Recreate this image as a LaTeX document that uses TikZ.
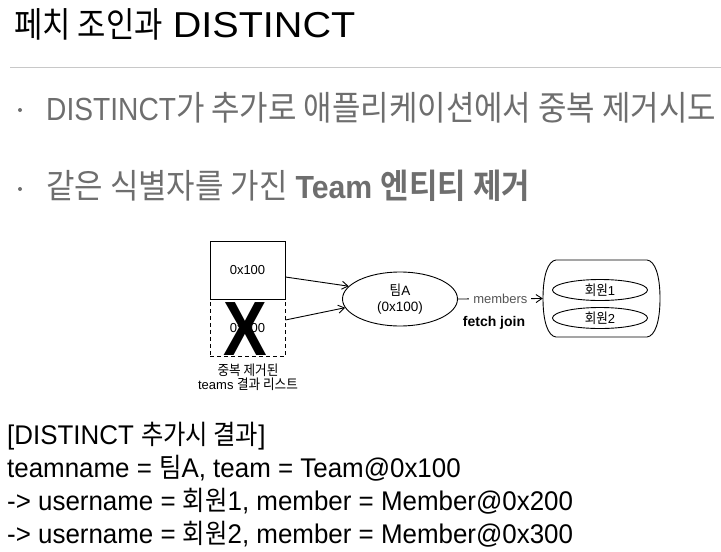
\documentclass[tikz,border=0pt]{standalone}
\usepackage{fontspec}
\setmainfont{Liberation Sans}
\newfontfamily\latT{Liberation Sans}[FakeStretch=1.1]
\newfontfamily\latB{Liberation Sans}[FakeStretch=0.88, BoldFeatures={FakeStretch=0.945}]
\newfontfamily\latC{Liberation Sans}[FakeStretch=0.96]
\newfontfamily\krT{Noto Sans CJK KR}[FakeStretch=0.88]
\newfontfamily\krB{Noto Sans CJK KR}[FakeStretch=0.91, BoldFont={Noto Sans CJK KR Bold}]
\newfontfamily\krC{Noto Sans CJK KR}[FakeStretch=0.9]
\usetikzlibrary{arrows.meta, shapes.geometric}
\definecolor{bulgray}{HTML}{6E6E6E}
\definecolor{rulegray}{HTML}{C8C8C8}
\definecolor{lblgray}{HTML}{555555}
\newcommand\kT[1]{{\fontsize{35}{38}\krT #1}}
\newcommand\kB[1]{{\fontsize{34}{36}\krB #1}}
\newcommand\kC[1]{{\fontsize{27}{30}\krC #1}}
\newcommand\kD[1]{{\fontsize{14}{15}\krC #1}}
\tikzset{
  line/.style={line width=0.9pt},
  box/.style={draw, line width=0.9pt, minimum width=75, minimum height=57.5, inner sep=0, font=\fontsize{13}{15}\selectfont},
  conn/.style={line width=0.9pt, -{Straight Barb[length=6pt,width=8pt]}},
  bot/.style={anchor=base west, inner sep=0, font=\fontsize{27}{30}\latC},
  bul/.style={anchor=base west, inner sep=0, text=bulgray, font=\fontsize{32}{36}\latB},
  dot/.style={circle, fill=bulgray, inner sep=0, minimum size=4},
  oval/.style={ellipse, draw, line width=0.9pt, inner sep=0, font=\fontsize{13}{15}\selectfont}
}
\begin{document}
\begin{tikzpicture}[x=1pt, y=-1pt]
\useasboundingbox (0,0) rectangle (721,552);
% title
\node[anchor=base west, inner sep=0] (title) at (14,37) {\fontsize{36}{40}\latT \kT{페치 조인과}\hspace{-1pt} DISTINCT};
\draw[rulegray, line width=1pt] (10,67) -- (721,67);
% bullets
\node[dot] (d1) at (20,110) {};
\node[bul] (t1) at (46,120) {DISTINCT\kB{가 추가로 애플리케이션에서 중복 제거시도}};
\node[dot] (d2) at (20,189) {};
\node[bul] (t2) at (46,198) {\kB{같은 식별자를 가진} \textbf{Team \kB{엔티티 제거}}};
% diagram
\node[box, dashed, dash pattern=on 4pt off 3pt] (dup) at (247.5,328) {0x100};
\node[box] (b1) at (247.5,270.5) {0x100};
\node[inner sep=0, font=\fontsize{77}{80}\selectfont\bfseries] (x) at (245.5,329.5) {\scalebox{0.85}[1]{X}};
\node[align=center, inner sep=0, font=\fontsize{13}{14}\selectfont] (lbl) at (248,377) {\kD{중복 제거된}\\teams \kD{결과 리스트}};
\node[oval, minimum width=115, minimum height=54, align=center, font=\fontsize{13.5}{16.5}\selectfont] (team) at (400,299) {\kD{팀}A\\(0x100)};
\node[minimum width=117, minimum height=77, inner sep=0] (cont) at (601.5,298.5) {};
\draw[line] (556,260) -- (647,260) .. controls (655,261) and (660,275) .. (660,298.5) .. controls (660,322) and (655,336) .. (647,337) -- (556,337) .. controls (548,336) and (543,322) .. (543,298.5) .. controls (543,275) and (548,261) .. (556,260) -- cycle;
\node[oval, minimum width=95, minimum height=21] (m1) at (600,290) {\kD{회원}1};
\node[oval, minimum width=95, minimum height=21] (m2) at (600,318) {\kD{회원}2};
\draw[conn] ([yshift=-6.5pt]b1.east) -- (team.166);
\draw[conn] ([yshift=8pt]dup.east) -- (team.189);
\draw[conn] (team.east) -- node[fill=white, inner sep=4pt, text=lblgray, font=\fontsize{13}{15}\selectfont] (mem) {members} (cont.west);
\node[font=\fontsize{14}{16}\selectfont\bfseries, inner sep=0] (fj) at (494,323) {fetch join};
% bottom text
\node[bot] (r1) at (7,444) {[DISTINCT \kC{추가시 결과}]};
\node[bot] (r2) at (7,477) {teamname = \kC{팀}A, team = Team@0x100};
\node[bot] (r3) at (7,510) {-> username = \kC{회원}1, member = Member@0x200};
\node[bot] (r4) at (7,543) {-> username = \kC{회원}2, member = Member@0x300};
\end{tikzpicture}
\end{document}
